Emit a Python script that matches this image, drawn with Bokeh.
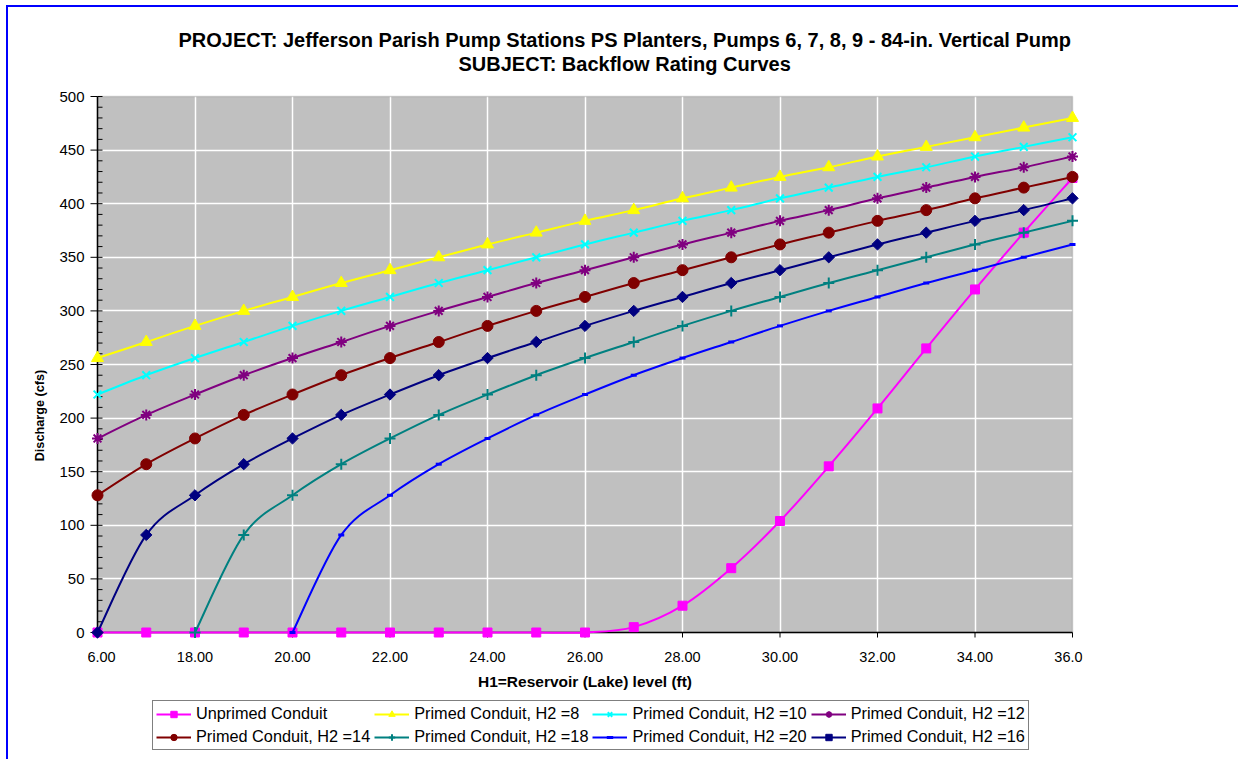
import numpy as np
from bokeh.plotting import figure
from bokeh.models import (Range1d, FixedTicker, BoxAnnotation,
                          Legend, LegendItem, Grid, Title)
from bokeh.core.properties import value
from bokeh.embed import file_html
from bokeh.resources import INLINE

# ---------------- data ----------------
h1 = [16, 17, 18, 19, 20, 21, 22, 23, 24, 25, 26, 27, 28, 29, 30, 31, 32, 33, 34, 35, 36]
unprimed = [0, 0, 0, 0, 0, 0, 0, 0, 0, 0, 0, 5, 25, 60, 104, 155, 209, 265, 320, 373, 424]
h2_8 = [256, 271, 286, 300, 313, 326, 338, 350, 362, 373, 384, 394, 405, 415, 425, 434, 444, 453, 462, 471, 480]
h2_10 = [222, 240, 256, 271, 286, 300, 313, 326, 338, 350, 362, 373, 384, 394, 405, 415, 425, 434, 444, 453, 462]
h2_12 = [181, 203, 222, 240, 256, 271, 286, 300, 313, 326, 338, 350, 362, 373, 384, 394, 405, 415, 425, 434, 444]
h2_14 = [128, 157, 181, 203, 222, 240, 256, 271, 286, 300, 313, 326, 338, 350, 362, 373, 384, 394, 405, 415, 425]
h1_18 = [18, 19, 20, 21, 22, 23, 24, 25, 26, 27, 28, 29, 30, 31, 32, 33, 34, 35, 36]
h2_18 = [0, 91, 128, 157, 181, 203, 222, 240, 256, 271, 286, 300, 313, 326, 338, 350, 362, 373, 384]
h1_20 = [20, 21, 22, 23, 24, 25, 26, 27, 28, 29, 30, 31, 32, 33, 34, 35, 36]
h2_20 = [0, 91, 128, 157, 181, 203, 222, 240, 256, 271, 286, 300, 313, 326, 338, 350, 362]
h2_16 = [0, 91, 128, 157, 181, 203, 222, 240, 256, 271, 286, 300, 313, 326, 338, 350, 362, 373, 384, 394, 405]

labels = ["Unprimed Conduit", "Primed Conduit, H2 =8", "Primed Conduit, H2 =10",
          "Primed Conduit, H2 =12", "Primed Conduit, H2 =14", "Primed Conduit, H2 =18",
          "Primed Conduit, H2 =20", "Primed Conduit, H2 =16"]
x_ticks = [16, 18, 20, 22, 24, 26, 28, 30, 32, 34, 36]
x_tick_labels = ["16.00", "18.00", "20.00", "22.00", "24.00", "26.00",
                 "28.00", "30.00", "32.00", "34.00", "36.00"]
y_ticks = [0, 50, 100, 150, 200, 250, 300, 350, 400, 450, 500]
y_minor = list(range(0, 501, 10))

title1 = "PROJECT: Jefferson Parish Pump Stations  PS Planters, Pumps 6, 7, 8, 9 - 84-in. Vertical Pump"
title2 = "SUBJECT:  Backflow Rating Curves"
xlabel = "H1=Reservoir (Lake) level (ft)"
ylabel = "Discharge (cfs)"

FONT = "Liberation Sans"

# ---------------- styles ----------------
# label, x, y, color, marker, size, marker line width, angle
series = [
    (labels[0], h1, unprimed, "#FF00FF", "square", 9, 1, 0),
    (labels[1], h1, h2_8, "#FFFF00", "triangle", 12, 1, 0),
    (labels[2], h1, h2_10, "#00FFFF", "x", 11, 2, 0),
    (labels[3], h1, h2_12, "#800080", "asterisk", 11, 2, 0),
    (labels[4], h1, h2_14, "#800000", "circle", 11, 1, 0),
    (labels[5], h1_18, h2_18, "#008080", "cross", 11, 2, 0),
    (labels[6], h1_20, h2_20, "#0000FF", "dash", 6, 3, 0),
    (labels[7], h1, h2_16, "#000080", "square", 8, 1, np.pi / 4),
]


def smooth_segments(xs, ys):
    """Excel-like smoothed line: cubic Bezier control points (Catmull-Rom)."""
    xs = np.asarray(xs, float)
    ys = np.asarray(ys, float)
    n = len(xs)
    xp = np.concatenate([[xs[0]], xs, [xs[-1]]])
    yp = np.concatenate([[ys[0]], ys, [ys[-1]]])
    return dict(
        x0=xp[1:n], y0=yp[1:n], x1=xp[2:n + 1], y1=yp[2:n + 1],
        cx0=xp[1:n] + (xp[2:n + 1] - xp[0:n - 1]) / 6.0,
        cy0=yp[1:n] + (yp[2:n + 1] - yp[0:n - 1]) / 6.0,
        cx1=xp[2:n + 1] - (xp[3:n + 2] - xp[1:n]) / 6.0,
        cy1=yp[2:n + 1] - (yp[3:n + 2] - yp[1:n]) / 6.0,
    )


# ---------------- layout ----------------
PXX = 48.75      # px per x unit
PXY = 1.072      # px per y unit
PAD = 10         # px padding left/right of plot area (keeps edge markers whole)
PAD_TOP = 21
PAD_BOT = 123    # room below the plot area for tick labels, axis title and legend
X0, X1 = x_ticks[0], x_ticks[-1]
Y0, Y1 = y_ticks[0], y_ticks[-1]

p = figure(width=1230, height=752, frame_width=995, frame_height=680,
           output_backend="svg", toolbar_location=None,
           x_range=Range1d(X0 - PAD / PXX, X1 + PAD / PXX),
           y_range=Range1d(Y0 - PAD_BOT / PXY, Y1 + PAD_TOP / PXY),
           min_border_left=79, min_border_right=156, min_border_top=68, min_border_bottom=4)
p.styles = {"box-sizing": "content-box", "margin-left": "6px", "margin-top": "5px",
            "border-left": "2px solid #0000FF", "border-top": "2px solid #0000FF",
            "border-right": "none", "border-bottom": "none"}
p.background_fill_color = "white"
p.border_fill_color = "white"
p.outline_line_color = None

# plot area
p.add_layout(BoxAnnotation(left=X0, right=X1, bottom=Y0, top=Y1, fill_color="#C0C0C0",
                           fill_alpha=1, line_color=None, level="image"))
p.add_layout(BoxAnnotation(left=X0, right=X1, bottom=Y0, top=Y1, fill_alpha=0,
                           line_color="#808080", line_width=1.5, level="underlay"))

# grids
p.xgrid.ticker = FixedTicker(ticks=x_ticks[1:-1])
p.ygrid.ticker = FixedTicker(ticks=y_ticks[1:-1])
for g in (p.xgrid, p.ygrid):
    g.grid_line_color = "white"
    g.grid_line_width = 1.5
if "cross_bounds" in Grid.properties():
    p.xgrid.cross_bounds = (Y0, Y1)
    p.ygrid.cross_bounds = (X0, X1)

# x axis: its labels are drawn as text at the tick positions just under the plot area
xa = p.xaxis[0]
xa.ticker = FixedTicker(ticks=x_ticks, minor_ticks=[])
xa.visible = False

ya = p.yaxis[0]
ya.ticker = FixedTicker(ticks=y_ticks, minor_ticks=[])
ya.axis_line_color = None
ya.major_tick_line_color = None
ya.minor_tick_line_color = None
ya.major_tick_out = 0
ya.major_tick_in = 0
ya.minor_tick_out = 0
ya.minor_tick_in = 0
ya.major_label_standoff = 3
ya.major_label_text_font = FONT
ya.major_label_text_font_size = "15px"
ya.major_label_text_color = "black"
ya.axis_label = ylabel
ya.axis_label_text_font = FONT
ya.axis_label_text_font_size = "12.7px"
ya.axis_label_text_font_style = "bold"
ya.axis_label_text_color = "black"
ya.axis_label_standoff = 9

# axis lines and ticks
xt = np.asarray(x_ticks, float)
yt = np.asarray(y_ticks, float)
ym = np.asarray(y_minor, float)
p.segment(x0=[X0, X0], y0=[Y0, Y0], x1=[X1, X0], y1=[Y0, Y1], line_color="black", line_width=1.5)
p.segment(x0=xt, y0=np.full_like(xt, Y0), x1=xt, y1=np.full_like(xt, Y0 - 5 / PXY),
          line_color="black", line_width=1)
p.segment(x0=np.full_like(yt, X0 - 7 / PXX), y0=yt, x1=np.full_like(yt, X0), y1=yt,
          line_color="black", line_width=1)
p.segment(x0=np.full_like(ym, X0), y0=ym, x1=np.full_like(ym, X0 + 5 / PXX), y1=ym,
          line_color="black", line_width=1)

# x tick labels and x axis title
p.text(x=x_ticks, y=[Y0 - 24 / PXY] * len(x_ticks), text=x_tick_labels,
       text_font=value(FONT), text_font_size="14.5px", text_color="black",
       text_align="center", text_baseline="middle")
p.text(x=[(X0 + X1) / 2], y=[Y0 - 49 / PXY], text=[xlabel],
       text_font=value(FONT), text_font_size="15.5px", text_font_style="bold",
       text_color="black", text_align="center", text_baseline="middle")

# series
items = []
for label, xs, ys, color, marker, size, lw, ang in series:
    bz = p.bezier(line_color=color, line_width=2, **smooth_segments(xs, ys))
    sc = p.scatter(x=xs, y=ys, marker=marker, size=size, angle=ang, fill_color=color,
                   line_color=color, line_width=lw)
    items.append(LegendItem(label=label, renderers=[bz, sc]))

legend = Legend(items=items, location=(65, 5), orientation="horizontal", ncols=4,
                label_text_font=FONT, label_text_font_size="16.3px", label_text_color="black",
                glyph_width=35, glyph_height=16, label_height=16, label_standoff=5,
                spacing=4, padding=3, margin=0,
                border_line_color="black", border_line_width=1,
                background_fill_color="white", background_fill_alpha=1)
p.add_layout(legend)

# titles (first added sits nearest the plot)
p.add_layout(Title(text=title2, align="left", offset=371, vertical_align="middle", standoff=0,
                   text_font=FONT, text_font_size="20px", text_font_style="bold",
                   text_color="black"), "above")
p.add_layout(Title(text=title1, align="left", offset=91, vertical_align="middle", standoff=0,
                   text_font=FONT, text_font_size="20px", text_font_style="bold",
                   text_color="black"), "above")

open("out.html", "w").write(file_html(p, INLINE))
